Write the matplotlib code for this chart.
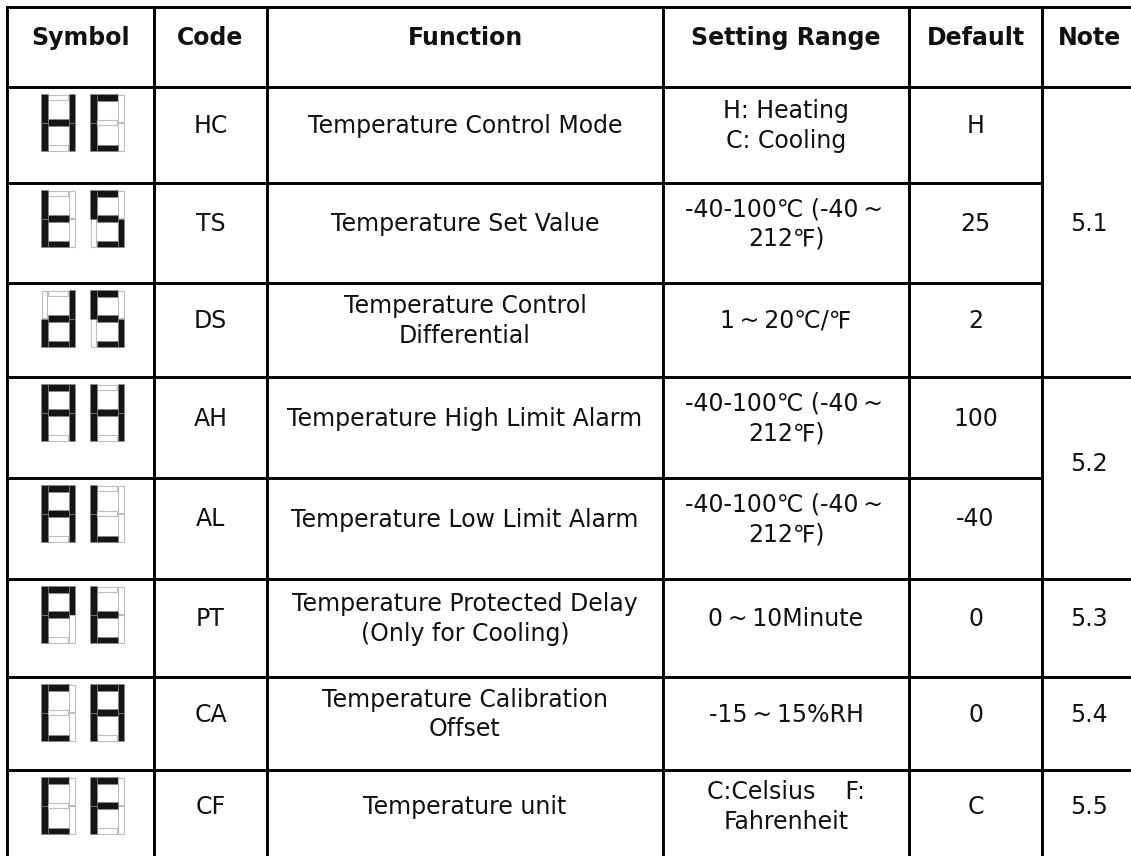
import matplotlib
matplotlib.use("Agg")
import matplotlib.pyplot as plt
from matplotlib.patches import Rectangle

plt.rcParams['font.family'] = ['DejaVu Sans', 'Noto Sans CJK SC']

TILDE = "\u2009~\u2009"

# Table content
headers = ["Symbol", "Code", "Function", "Setting Range", "Default", "Note"]
symbols = ["HC", "tS", "dS", "AH", "AL", "Pt", "CA", "CF"]
codes = ["HC", "TS", "DS", "AH", "AL", "PT", "CA", "CF"]
functions = [
    "Temperature Control Mode",
    "Temperature Set Value",
    "Temperature Control\nDifferential",
    "Temperature High Limit Alarm",
    "Temperature Low Limit Alarm",
    "Temperature Protected Delay\n(Only for Cooling)",
    "Temperature Calibration\nOffset",
    "Temperature unit",
]
ranges = [
    "H: Heating\nC: Cooling",
    f"-40-100℃ (-40{TILDE}\n212℉)",
    f"1{TILDE}20℃/℉",
    f"-40-100℃ (-40{TILDE}\n212℉)",
    f"-40-100℃ (-40{TILDE}\n212℉)",
    f"0{TILDE}10Minute",
    f"-15{TILDE}15%RH",
    "C:Celsius    F:\nFahrenheit",
]
defaults = ["H", "25", "2", "100", "-40", "0", "0", "C"]
# note text, first row, last row (exclusive)
notes = [("5.1", 0, 3), ("5.2", 3, 5), ("5.3", 5, 6), ("5.4", 6, 7), ("5.5", 7, 8)]

# lit segments of each seven-segment glyph
SEGMENTS = {"H": "bcefg", "C": "adef", "t": "defg", "S": "acdfg", "d": "bcdeg",
            "A": "abcefg", "L": "def", "P": "abefg", "F": "aefg"}

# layout in pixels
col_x = [7, 154, 267, 663, 909, 1042, 1136]
row_y = [7, 87, 183, 283, 377, 478, 579, 677, 770, 862]
note_y = {"5.1": 224, "5.2": 464}
TEXT_SHIFT = -9
FS = 17

fig = plt.figure(figsize=(11.31, 8.56), dpi=100)
ax = fig.add_axes([0, 0, 1, 1])
ax.set_xlim(0, 1131)
ax.set_ylim(856, 0)
ax.axis("off")


def draw_digit(ch, x0, y0, w=34, h=57, t=6.5):
    segs = {
        "a": (x0 + t, y0, w - 2 * t, t),
        "b": (x0 + w - t, y0, t, h / 2),
        "c": (x0 + w - t, y0 + h / 2, t, h / 2),
        "d": (x0 + t, y0 + h - t, w - 2 * t, t),
        "e": (x0, y0 + h / 2, t, h / 2),
        "f": (x0, y0, t, h / 2),
        "g": (x0 + t, y0 + h / 2 - t / 2, w - 2 * t, t),
    }
    lit = SEGMENTS[ch]
    for name, (sx, sy, sw, sh) in segs.items():
        if name in lit:
            ax.add_patch(Rectangle((sx, sy), sw, sh, facecolor="#151515",
                                   edgecolor="#888888", lw=0.4))
        else:
            ax.add_patch(Rectangle((sx + 0.5, sy + 0.5), sw - 1, sh - 1, facecolor="white",
                                   edgecolor="#bdbdbd", lw=0.8))


def cell_text(s, col, yc, bold=False):
    xc = (col_x[col] + col_x[col + 1]) / 2
    ax.text(xc, yc, s, ha="center", va="center", fontsize=FS, color="#111111",
            fontweight="bold" if bold else "normal", linespacing=1.3,
            multialignment="center")


# header
for i, h in enumerate(headers):
    cell_text(h, i, (row_y[0] + row_y[1]) / 2 + TEXT_SHIFT, bold=True)

# rows
for r in range(len(codes)):
    yc = (row_y[r + 1] + row_y[r + 2]) / 2 + TEXT_SHIFT
    top = row_y[r + 1] + 7
    draw_digit(symbols[r][0], 41, top)
    draw_digit(symbols[r][1], 90, top)
    cell_text(codes[r], 1, yc)
    cell_text(functions[r], 2, yc)
    cell_text(ranges[r], 3, yc)
    cell_text(defaults[r], 4, yc)

for txt, r0, r1 in notes:
    yc = note_y.get(txt, (row_y[r0 + 1] + row_y[r1 + 1]) / 2 + TEXT_SHIFT)
    cell_text(txt, 5, yc)

# grid lines
LW = 2.1
ax.plot([col_x[0], 1131], [row_y[0], row_y[0]], color="black", lw=LW)
ax.plot([col_x[0], 1131], [row_y[1], row_y[1]], color="black", lw=LW)
note_breaks = {row_y[n[2] + 1] for n in notes}
for y in row_y[2:-1]:
    x_end = 1131 if y in note_breaks else col_x[5]
    ax.plot([col_x[0], x_end], [y, y], color="black", lw=LW)
for x in col_x[:-1]:
    ax.plot([x, x], [row_y[0], row_y[-1]], color="black", lw=LW)

fig.savefig("out.png", dpi=100, facecolor="white")
